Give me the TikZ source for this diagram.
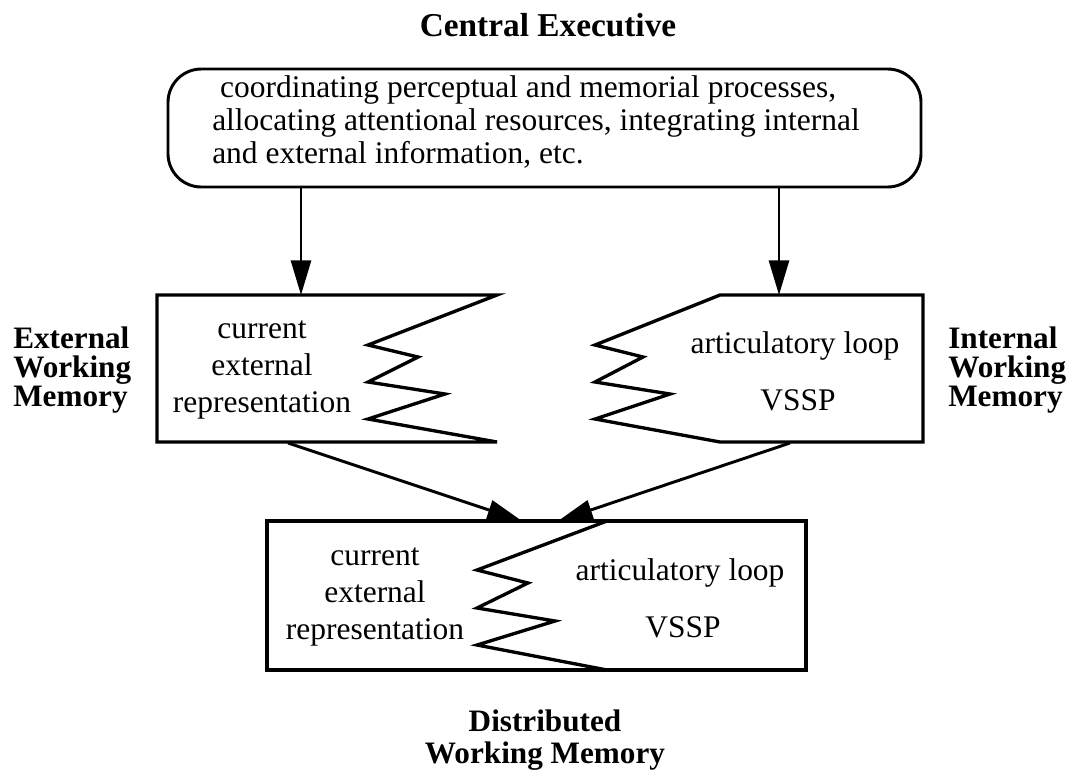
\documentclass[tikz,border=0pt]{standalone}
\usepackage{fontspec}
\setmainfont{Liberation Serif}
\usetikzlibrary{arrows.meta}
\tikzset{
  wmbox/.style={line width=2.5pt, line join=miter},
  cebox/.style={draw, line width=2.2pt, rounded corners=25pt,
    minimum width=564.75pt, minimum height=88.5pt, inner sep=0pt},
  arr/.style={line width=2.2pt, -{Triangle[length=26pt,width=15pt]}},
  txt/.style={font=\fontsize{23.6}{28}\selectfont, align=center, inner sep=0pt},
  lbl/.style={font=\fontsize{23.4}{21.75}\selectfont\bfseries, inner sep=0pt}
}
\begin{document}
\begin{tikzpicture}[x=0.75pt, y=-0.75pt]
  \useasboundingbox (0,0) rectangle (1078,776);

  % central executive
  \node[lbl, font=\fontsize{25}{30}\selectfont\bfseries, anchor=base] (cetitle) at (548,36) {Central Executive};
  \node[cebox] (ce) at (544.5,128) {};
  \node[txt, align=left, anchor=west, font=\fontsize{23.6}{24.75}\selectfont] (cetext) at (212,122)
    {\hspace{0.25em}coordinating perceptual and memorial processes,\\
     allocating attentional resources, integrating internal\\
     and external information, etc.};

  % external working memory
  \draw[wmbox] (497,295) -- (157,295) -- (157,442) -- (497,442)
    -- (368,419) -- (445,394) -- (368,382) -- (418,357) -- (368,345) -- cycle;
  \node[txt] (ewmtext) at (262,370) {current\\external\\representation};
  \node[lbl, align=left, anchor=west] (ewmlbl) at (13,370) {External\\Working\\Memory};

  % internal working memory
  \draw[wmbox] (720,295) -- (923,295) -- (923,442) -- (720,442)
    -- (595,419) -- (670,394) -- (595,382) -- (643,357) -- (595,345) -- cycle;
  \node[txt, anchor=base] (iwmloop) at (795,353) {articulatory loop};
  \node[txt, anchor=base] (iwmvssp) at (798,410) {VSSP};
  \node[lbl, align=left, anchor=west] (iwmlbl) at (948,370) {Internal\\Working\\Memory};

  % distributed working memory
  \draw[wmbox] (267,521) rectangle (806,670);
  \draw[wmbox] (607,521) -- (477,570) -- (528,583) -- (477,608) -- (555,621) -- (477,645) -- (607,670);
  \node[txt] (dwmtext) at (375,597) {current\\external\\representation};
  \node[txt, anchor=base] (dwmloop) at (680,580) {articulatory loop};
  \node[txt, anchor=base] (dwmvssp) at (683,637) {VSSP};
  \node[lbl, align=center, font=\fontsize{23.4}{24}\selectfont\bfseries] (dwmlbl) at (545,740) {Distributed\\Working Memory};

  % connectors
  \coordinate (ewmin) at (301,295);
  \coordinate (iwmin) at (779,295);
  \coordinate (ewmout) at (288,443);
  \coordinate (iwmout) at (790,443);
  \coordinate (dwmin1) at (522,521);
  \coordinate (dwmin2) at (558,521);
  \draw[arr] (ce.south -| ewmin) -- (ewmin);
  \draw[arr] (ce.south -| iwmin) -- (iwmin);
  \draw[arr] (ewmout) -- (dwmin1);
  \draw[arr] (iwmout) -- (dwmin2);
\end{tikzpicture}
\end{document}
